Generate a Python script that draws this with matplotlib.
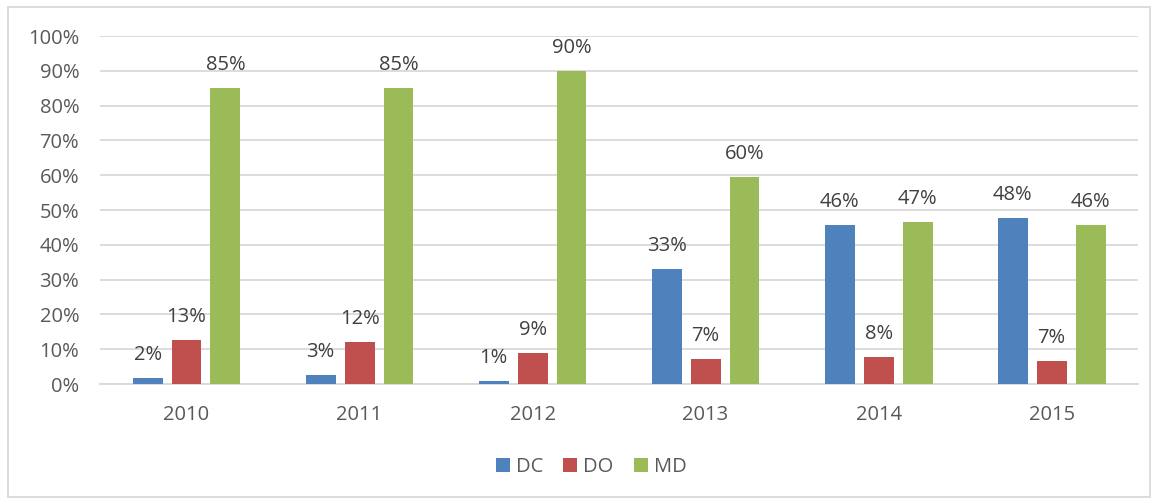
import matplotlib.pyplot as plt
import numpy as np
from matplotlib.patches import Rectangle
from matplotlib.ticker import PercentFormatter

years = ['2010', '2011', '2012', '2013', '2014', '2015']
dc = [1.7, 2.6, 0.9, 33.1, 45.7, 47.7]
do = [12.6, 12.1, 8.9, 7.2, 7.8, 6.6]
md = [85.0, 85.0, 90.0, 59.6, 46.6, 45.6]

series = [('DC', dc, '#4f81bd'), ('DO', do, '#c0504d'), ('MD', md, '#9bbb59')]

plt.rcParams['font.family'] = ['Open Sans', 'DejaVu Sans']

fig = plt.figure(figsize=(11.59, 5.04), dpi=100)
ax = fig.add_axes([0.0863, 0.238, 0.8957, 0.6904])

x = np.arange(len(years))
width = 0.173
step = 0.225

for i, (name, vals, color) in enumerate(series):
    pos = x + (i - 1) * step
    ax.bar(pos, vals, width, color=color, label=name, zorder=3)
    for xp, v in zip(pos, vals):
        ax.annotate(f'{round(v):.0f}%', (xp, v), xytext=(0, 13),
                    textcoords='offset points', ha='center', va='baseline',
                    fontsize=14.5, color='#404040')

ax.set_xlim(-0.5, len(years) - 0.5)
ax.set_ylim(0, 100)
ax.set_yticks(np.arange(0, 101, 10))
ax.yaxis.set_major_formatter(PercentFormatter(decimals=0))
ax.set_xticks(x)
ax.set_xticklabels(years)
ax.tick_params(axis='both', length=0, labelsize=14.5, colors='#595959')
ax.tick_params(axis='x', pad=15)
ax.tick_params(axis='y', pad=15)
ax.grid(axis='y', color='#d9d9d9', linewidth=1.3, zorder=0)
for s in ['top', 'right', 'left']:
    ax.spines[s].set_visible(False)
ax.spines['bottom'].set_color('#d9d9d9')
ax.spines['bottom'].set_linewidth(1.3)

fig.legend(loc='center', bbox_to_anchor=(0.51, 0.073), ncol=3,
           frameon=False, fontsize=14.5, handlelength=0.7, handleheight=0.7,
           columnspacing=1.0, handletextpad=0.3, labelcolor='#595959')

fig.patches.append(Rectangle((8 / 1159, 7 / 504), 1142 / 1159, 490 / 504,
                             transform=fig.transFigure, fill=False,
                             edgecolor='#d9d9d9', linewidth=1.3))

fig.savefig('out.png', dpi=100)
